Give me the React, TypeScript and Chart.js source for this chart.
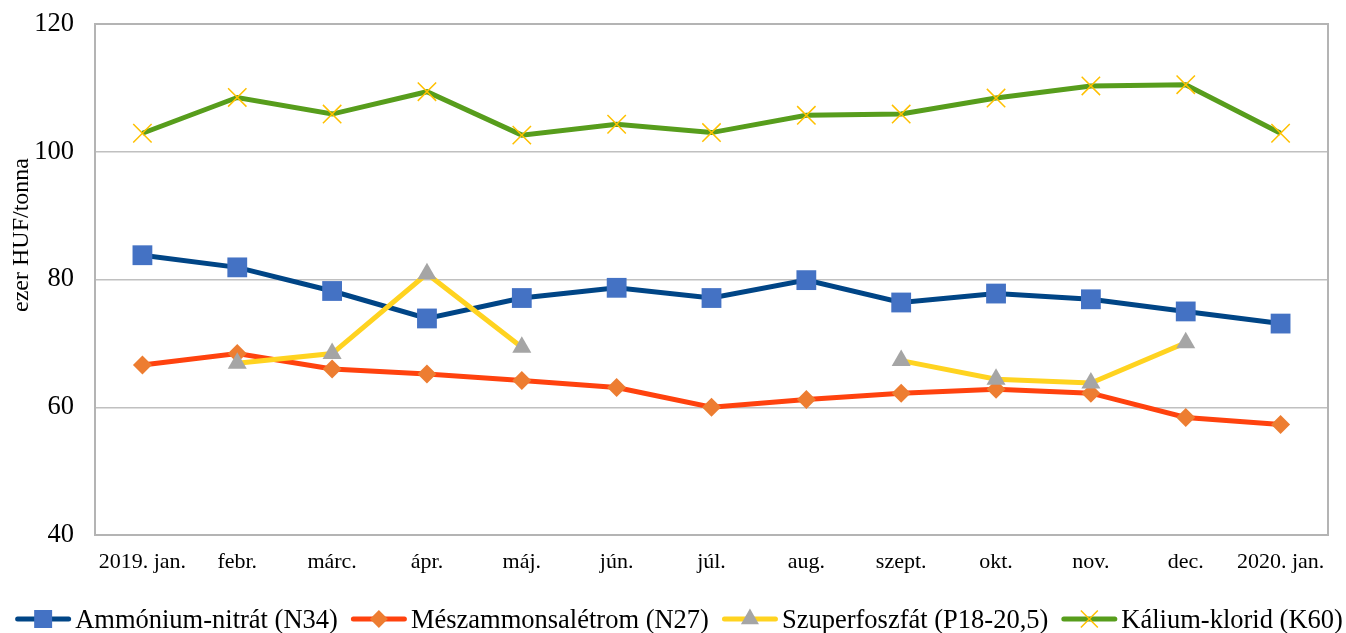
import React, { useEffect, useRef } from 'react';
import { Chart, registerables } from 'chart.js';

Chart.register(...registerables);

const categories = ['2019. jan.', 'febr.', 'márc.', 'ápr.', 'máj.', 'jún.', 'júl.', 'aug.', 'szept.', 'okt.', 'nov.', 'dec.', '2020. jan.'];
const ammoniumNitrat = [83.8, 81.9, 78.2, 73.9, 77.1, 78.7, 77.1, 79.9, 76.4, 77.8, 76.9, 75.0, 73.1];
const meszammonsaletrom = [66.6, 68.4, 66.0, 65.2, 64.2, 63.1, 60.0, 61.2, 62.2, 62.8, 62.2, 58.4, 57.3];
const szuperfoszfat = [null, 66.9, 68.4, 80.9, 69.4, null, null, null, 67.3, 64.4, 63.8, 70.1, null];
const kaliumKlorid = [102.9, 108.5, 105.9, 109.4, 102.6, 104.3, 103.0, 105.7, 105.9, 108.4, 110.3, 110.5, 102.9];
const seriesNames = ['Ammónium-nitrát (N34)', 'Mészammonsalétrom (N27)', 'Szuperfoszfát (P18-20,5)', 'Kálium-klorid (K60)'];
const yTicks = [40, 60, 80, 100, 120];
const yTitle = 'ezer HUF/tonna';

const SERIF = '"Liberation Serif", "Times New Roman", serif';

const lineColors = ['#004586', '#FF420E', '#FFD320', '#579D1C'];
const markerColors = ['#4472C4', '#ED7D31', '#A5A5A5', '#FFC000'];
const markerStyles = ['rect', 'rectRot', 'triangle', 'crossRot'];
const legendRadii = [12.7, 9, 10.4, 12];

function drawMarker(ctx: CanvasRenderingContext2D, style: string, x: number, y: number, r: number, color: string) {
  ctx.save();
  ctx.fillStyle = color;
  ctx.strokeStyle = color;
  ctx.beginPath();
  if (style === 'rect') {
    const s = r * Math.SQRT1_2;
    ctx.rect(x - s, y - s, 2 * s, 2 * s);
    ctx.fill();
  } else if (style === 'rectRot') {
    ctx.moveTo(x - r, y);
    ctx.lineTo(x, y - r);
    ctx.lineTo(x + r, y);
    ctx.lineTo(x, y + r);
    ctx.closePath();
    ctx.fill();
  } else if (style === 'triangle') {
    ctx.moveTo(x, y - r);
    ctx.lineTo(x + r * Math.sin(Math.PI / 3), y + r / 2);
    ctx.lineTo(x - r * Math.sin(Math.PI / 3), y + r / 2);
    ctx.closePath();
    ctx.fill();
  } else if (style === 'crossRot') {
    const d = r * Math.SQRT1_2;
    ctx.lineWidth = 1.5;
    ctx.moveTo(x - d, y - d);
    ctx.lineTo(x + d, y + d);
    ctx.moveTo(x - d, y + d);
    ctx.lineTo(x + d, y - d);
    ctx.stroke();
  }
  ctx.restore();
}

const decorPlugin = {
  id: 'decor',
  beforeDatasetsDraw(chart: any) {
    const { ctx, chartArea } = chart;
    ctx.save();
    ctx.strokeStyle = '#B4B4B4';
    ctx.lineWidth = 2;
    ctx.strokeRect(chartArea.left, chartArea.top, chartArea.right - chartArea.left, chartArea.bottom - chartArea.top);
    ctx.restore();
  },
  afterDraw(chart: any) {
    const { ctx, width } = chart;
    // y-axis title
    ctx.save();
    ctx.font = `24px ${SERIF}`;
    ctx.fillStyle = '#000';
    ctx.textAlign = 'center';
    ctx.textBaseline = 'alphabetic';
    ctx.translate(28, 235);
    ctx.rotate(-Math.PI / 2);
    ctx.fillText(yTitle, 0, 0);
    ctx.restore();

    // legend
    ctx.save();
    ctx.font = `26.5px ${SERIF}`;
    const lineLen = 56;
    const gapText = 4;
    const gapItem = 13;
    const widths = seriesNames.map((n) => ctx.measureText(n).width);
    const total = widths.reduce((a, b) => a + b, 0) + seriesNames.length * (lineLen + gapText) + (seriesNames.length - 1) * gapItem;
    let x = (width - total) / 2 + 6;
    const yLine = 619;
    const yText = 628;
    seriesNames.forEach((name, i) => {
      ctx.save();
      ctx.strokeStyle = lineColors[i];
      ctx.lineWidth = 5;
      ctx.lineCap = 'round';
      ctx.beginPath();
      ctx.moveTo(x + 2.5, yLine);
      ctx.lineTo(x + lineLen - 2.5, yLine);
      ctx.stroke();
      ctx.restore();
      drawMarker(ctx, markerStyles[i], x + lineLen / 2, yLine, legendRadii[i], markerColors[i]);
      ctx.fillStyle = '#000';
      ctx.textAlign = 'left';
      ctx.textBaseline = 'alphabetic';
      ctx.fillText(name, x + lineLen + gapText, yText);
      x += lineLen + gapText + widths[i] + gapItem;
    });
    ctx.restore();
  },
};

export default function App() {
  const canvasRef = useRef<HTMLCanvasElement | null>(null);

  useEffect(() => {
    document.body.style.margin = '0';
    const canvas = canvasRef.current;
    if (!canvas) return;
    const chart = new Chart(canvas, {
      type: 'line',
      data: {
        labels: categories,
        datasets: [
          {
            label: seriesNames[0],
            data: ammoniumNitrat,
            borderColor: lineColors[0],
            backgroundColor: markerColors[0],
            borderWidth: 5,
            pointStyle: 'rect',
            pointRadius: 14,
            pointBackgroundColor: markerColors[0],
            pointBorderColor: markerColors[0],
            pointBorderWidth: 0,
            order: 4,
          },
          {
            label: seriesNames[1],
            data: meszammonsaletrom,
            borderColor: lineColors[1],
            backgroundColor: markerColors[1],
            borderWidth: 5,
            pointStyle: 'rectRot',
            pointRadius: 9.5,
            pointBackgroundColor: markerColors[1],
            pointBorderColor: markerColors[1],
            pointBorderWidth: 0,
            order: 3,
          },
          {
            label: seriesNames[2],
            data: szuperfoszfat,
            borderColor: lineColors[2],
            backgroundColor: markerColors[2],
            borderWidth: 5,
            pointStyle: 'triangle',
            pointRadius: 11,
            pointBackgroundColor: markerColors[2],
            pointBorderColor: markerColors[2],
            pointBorderWidth: 0,
            spanGaps: false,
            order: 2,
          },
          {
            label: seriesNames[3],
            data: kaliumKlorid,
            borderColor: lineColors[3],
            backgroundColor: markerColors[3],
            borderWidth: 5,
            pointStyle: 'crossRot',
            pointRadius: 13,
            pointBackgroundColor: markerColors[3],
            pointBorderColor: markerColors[3],
            pointBorderWidth: 1.5,
            order: 1,
          },
        ],
      },
      options: {
        animation: false,
        responsive: true,
        maintainAspectRatio: false,
        events: [],
        layout: { padding: { top: 24, right: 18, bottom: 0, left: 0 } },
        plugins: {
          legend: { display: false },
          tooltip: { enabled: false },
          title: { display: false },
        },
        elements: { line: { tension: 0 } },
        scales: {
          x: {
            type: 'category',
            offset: true,
            grid: { display: false, drawTicks: false },
            border: { display: false },
            ticks: {
              font: { family: SERIF, size: 22 },
              color: '#000',
              padding: 14,
              maxRotation: 0,
              autoSkip: false,
            },
            afterFit: (scale: any) => {
              scale.height = 98;
            },
          },
          y: {
            min: 40,
            max: 120,
            grid: { color: '#C0C0C0', lineWidth: 1.5, drawTicks: false },
            border: { display: false },
            ticks: {
              font: { family: SERIF, size: 26.5 },
              color: '#000',
              padding: 21,
            },
            afterBuildTicks: (scale: any) => {
              scale.ticks = yTicks.map((v) => ({ value: v }));
            },
            afterFit: (scale: any) => {
              scale.width = 95;
              scale.paddingTop = 0;
              scale.paddingBottom = 0;
            },
          },
        },
      },
      plugins: [decorPlugin],
    } as any);
    return () => chart.destroy();
  }, []);

  return (
    <div style={{ position: 'relative', width: 1346, height: 633 }}>
      <canvas ref={canvasRef} />
    </div>
  );
}
